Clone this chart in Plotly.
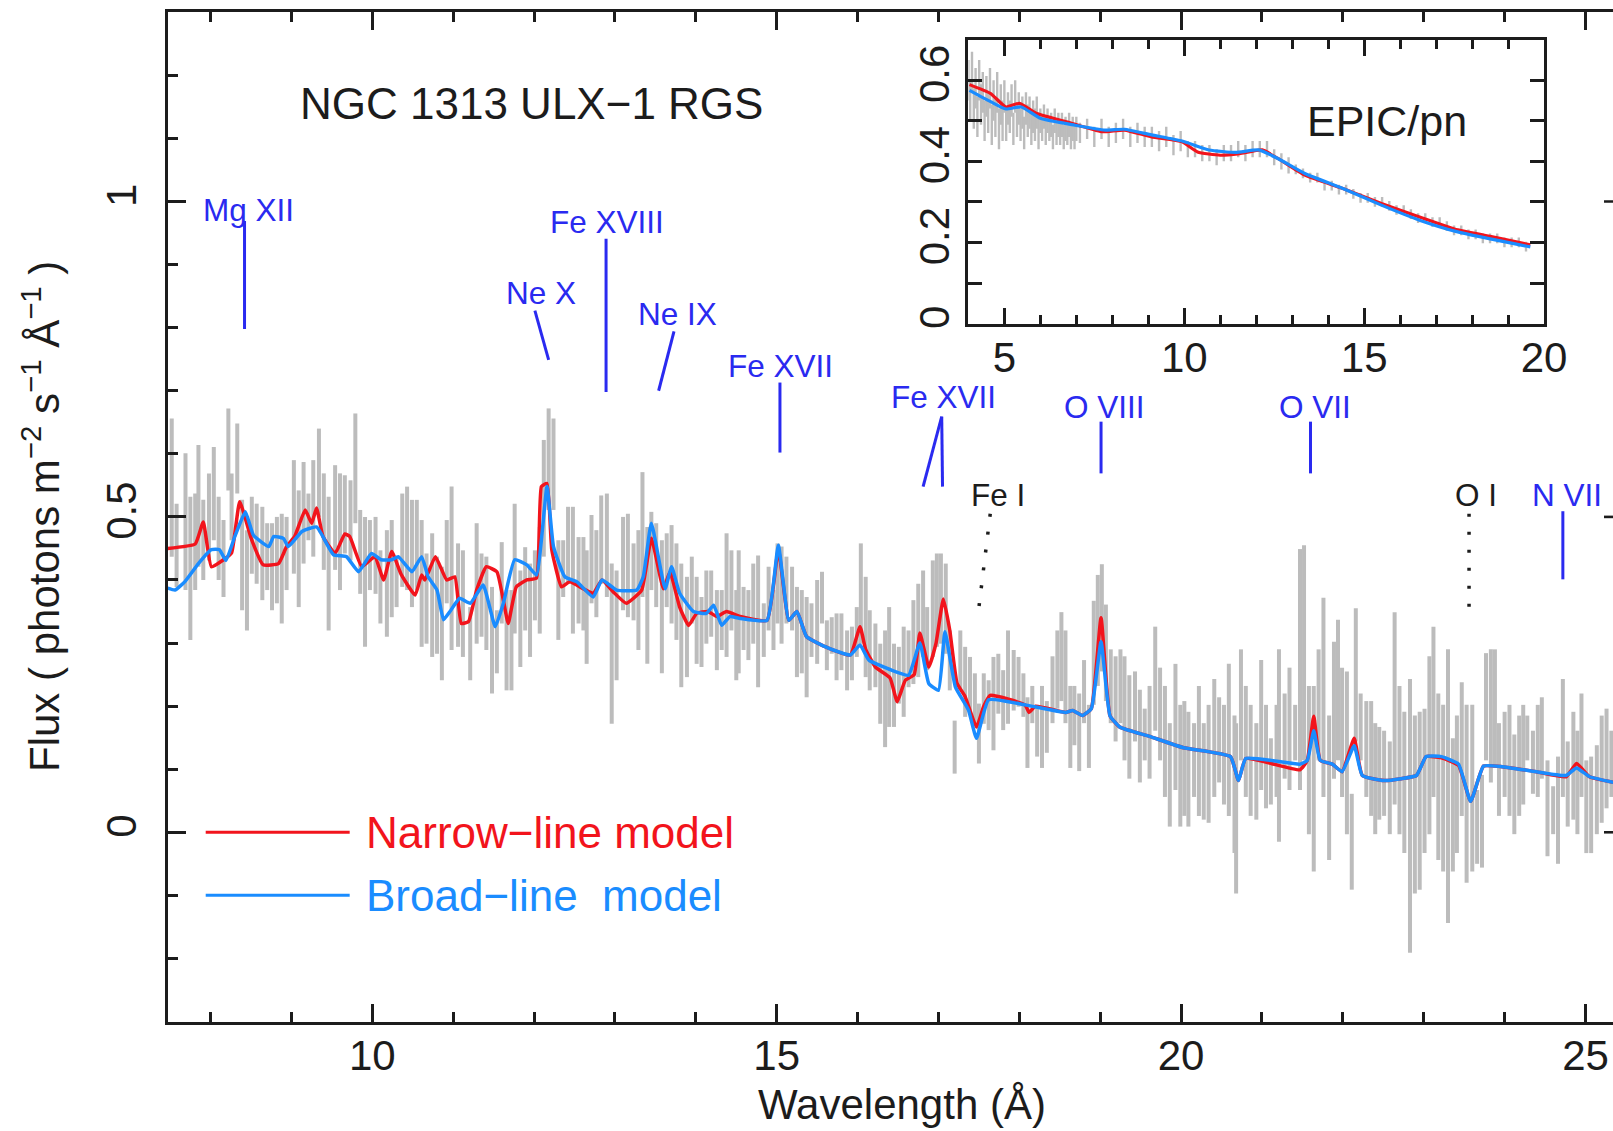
import plotly.graph_objects as go

# ---------------- RGS data (grey error bars) ----------------
rgs_wl = [7.52, 7.58, 7.69, 7.75, 7.81, 7.85, 7.91, 7.98, 8.04, 8.10, 8.16, 8.22, 8.26, 8.33, 8.39, 8.45, 8.51, 8.57, 8.64, 8.70,
          8.76, 8.82, 8.88, 8.94, 9.03, 9.09, 9.15, 9.21, 9.27, 9.34, 9.40, 9.46, 9.54, 9.60, 9.66, 9.73, 9.79, 9.85, 9.91, 9.97,
          10.04, 10.10, 10.18, 10.24, 10.30, 10.37, 10.43, 10.49, 10.55, 10.61, 10.67, 10.74, 10.80, 10.86, 10.92, 10.98,
          11.06, 11.12, 11.21, 11.29, 11.35, 11.41, 11.48, 11.54, 11.60, 11.66, 11.72, 11.76, 11.83, 11.89, 11.95, 12.01,
          12.07, 12.12, 12.18, 12.24, 12.30, 12.36, 12.42, 12.48, 12.55, 12.61, 12.65, 12.71, 12.77, 12.83, 12.90, 12.96,
          13.02, 13.10, 13.16, 13.23, 13.29, 13.34, 13.40, 13.45, 13.51, 13.58, 13.64, 13.70, 13.76, 13.82, 13.89, 13.95,
          14.01, 14.07, 14.13, 14.19, 14.26, 14.32, 14.38, 14.44, 14.50,
          14.53, 14.59, 14.65, 14.71, 14.77, 14.84, 14.90, 14.96, 15.01, 15.06, 15.12, 15.19, 15.25, 15.31, 15.37, 15.43,
          15.50, 15.56, 15.62, 15.68, 15.74, 15.80, 15.87, 15.93, 15.99, 16.04, 16.10, 16.15, 16.22, 16.28, 16.34, 16.39,
          16.45, 16.51, 16.57, 16.63, 16.69, 16.75, 16.81, 16.86, 16.93, 16.98, 17.03, 17.09, 17.14, 17.20, 17.27, 17.33,
          17.39, 17.45, 17.50, 17.56, 17.62, 17.68, 17.74, 17.80, 17.86, 17.93, 17.99, 18.05,
          18.10, 18.16, 18.22, 18.28, 18.34, 18.41, 18.47, 18.52, 18.57, 18.63, 18.68, 18.74, 18.80, 18.86, 18.92, 18.97,
          19.02, 19.07, 19.13, 19.19, 19.25, 19.30, 19.36, 19.43, 19.49, 19.55, 19.61, 19.68, 19.74, 19.80, 19.86, 19.93,
          19.99, 20.04, 20.09, 20.16, 20.22, 20.28, 20.34, 20.41, 20.47, 20.53, 20.59, 20.66, 20.68, 20.74, 20.80, 20.86,
          20.93, 20.99, 21.05, 21.11, 21.18, 21.21, 21.28, 21.34, 21.41, 21.47,
          21.52, 21.58, 21.64, 21.70, 21.76, 21.83, 21.89, 21.94, 21.99, 22.05, 22.11, 22.16, 22.22, 22.29, 22.35, 22.40,
          22.45, 22.51, 22.58, 22.64, 22.70, 22.76, 22.83, 22.89, 22.95, 23.01, 23.07, 23.12, 23.18, 23.24, 23.30, 23.36,
          23.41, 23.47, 23.53, 23.60, 23.66, 23.72, 23.77, 23.83, 23.88, 23.93, 24.00, 24.06, 24.12, 24.18, 24.23, 24.28,
          24.35, 24.41, 24.46, 24.53, 24.60, 24.66, 24.72, 24.78, 24.85, 24.90, 24.95, 25.01, 25.07, 25.14, 25.20, 25.26,
          25.32]
rgs_hi = [.656, .521, .601, .532, .537, .614, .527, .569, .611, .532, .495, .672, .569, .648, .527, .479, .532, .521, .516, .490,
          .490, .500, .505, .500, .590, .542, .587, .537, .590, .640, .569, .532, .582, .569, .566, .558, .664, .511, .500, .495,
          .500, .447, .479, .495, .437, .537, .548, .527, .527, .495, .442, .474, .437, .421, .495, .548,
          .458, .447, .357, .490, .442, .437, .389, .352, .460, .384, .384, .521, .415, .452, .426, .447,
          .484, .622, .672, .656, .463, .463, .516, .516, .468, .468, .447, .503, .479, .534, .537, .426,
          .415, .500, .505, .458, .479, .571, .484, .508, .490, .463, .474, .487, .458, .426, .405, .437,
          .405, .373, .415, .415, .384, .384, .474, .447, .384,
          .447, .389, .384, .426, .439, .363, .421, .384, .458, .453, .437, .421, .389, .384, .373, .363,
          .400, .413, .336, .341, .347, .347, .320, .326, .357, .458, .405, .352, .331, .299, .320, .357,
          .299, .294, .326, .320, .368, .394, .415, .357, .431, .442, .442, .426, .320, .177, .320, .294,
          .278, .252, .204, .252, .241, .278, .283, .257, .320, .289, .278, .252,
          .214, .232, .202, .232, .208, .279, .320, .349, .320, .232, .232, .220, .273, .202, .367, .408,
          .425, .361, .290, .279, .290, .279, .249, .255, .226, .196, .232, .326, .261, .232, .173, .267,
          .202, .208, .191, .173, .232, .173, .202, .243, .214, .202, .267, .185, .173, .290, .232, .202,
          .173, .273, .202, .149, .202, .290, .220, .261, .202, .449,
          .455, .232, .232, .290, .372, .185, .302, .337, .261, .255, .061, .355, .220, .208, .208, .173,
          .167, .161, .144, .349, .232, .191, .243, .185, .191, .196, .279, .326, .220, .202, .290, .149,
          .185, .238, .202, .202, .067, .091, .284, .290, .290, .173, .191, .202, .155, .185, .202, .185,
          .161, .202, .214, .114, .073, .120, .243, .144, .191, .161, .220, .114, .120, .138, .185, .196,
          .161]
rgs_lo = [.437, .389, .384, .305, .384, .421, .400, .431, .463, .400, .373, .542, .463, .537, .352, .320, .410, .394, .368, .384,
          .352, .363, .331, .384, .410, .357, .426, .463, .437, .500, .416, .320, .416, .384, .442, .431, .490, .378, .294, .384,
          .378, .331, .310, .341, .357, .389, .384, .357, .384, .294, .299, .278, .283, .241, .363, .289,
          .294, .278, .241, .299, .310, .289, .220, .252, .331, .225, .225, .315, .262, .320, .278, .336,
          .315, .437, .511, .511, .305, .373, .394, .315, .331, .320, .267, .363, .341, .394, .373, .172,
          .241, .352, .341, .336, .289, .373, .267, .384, .357, .252, .357, .331, .305, .230, .246, .331,
          .267, .262, .299, .310, .257, .289, .278, .320, .241,
          .252, .289, .273, .299, .230, .278, .320, .289, .331, .299, .331, .320, .246, .252, .214, .278,
          .267, .331, .257, .283, .241, .257, .225, .241, .278, .299, .246, .225, .230, .172, .135, .167,
          .167, .204, .183, .230, .235, .246, .278, .257, .278, .294, .299, .283, .225, .093, .225, .183,
          .193, .172, .109, .172, .162, .130, .188, .162, .172, .193, .199, .183,
          .102, .173, .120, .102, .126, .173, .196, .208, .173, .102, .138, .097, .173, .102, .202, .232,
          .255, .208, .173, .144, .173, .114, .085, .144, .079, .114, .085, .161, .114, .056, .009, .067,
          .009, .026, .009, .056, .026, .020, .015, .056, .079, .044, .026, -.033, -.097, .114, .056, .026,
          .020, .067, .038, .044, .056, -.015, .085, .067, .114, .067,
          .114, -.003, -.062, .114, .056, -.044, .085, .114, .056, -.003, -.091, .144, .114, .056, .026, -.003,
          .020, .026, -.003, .044, -.003, -.033, -.191, -.097, -.091, -.033, -.003, .056, -.044, -.062, -.144, -.062,
          -.033, .026, -.080, -.062, -.050, -.056, .114, .079, .102, .026, .056, .026, -.003, .026, .044, .114,
          .061, .056, .085, -.038, -.003, -.050, .056, .009, .020, -.003, .056, -.033, -.033, -.003, .015, .038,
          .056]

# ---------------- RGS models ----------------
narrow_wl = [7.47, 7.81, 7.91, 8.01, 8.16, 8.26, 8.36, 8.51, 8.65, 8.84, 8.94, 9.04, 9.17, 9.25, 9.31, 9.39, 9.54, 9.66, 9.72,
             9.87, 10.03, 10.14, 10.24, 10.36, 10.53, 10.61, 10.65, 10.78, 10.92, 11.02, 11.10, 11.19, 11.29, 11.41, 11.54,
             11.62, 11.68, 11.78, 11.91, 12.03, 12.09, 12.16, 12.22, 12.34, 12.44, 12.73, 12.84, 12.98, 13.14, 13.33, 13.45,
             13.60, 13.68, 13.80, 13.91, 14.01, 14.15, 14.26, 14.38, 14.55, 14.88, 15.02, 15.15, 15.25, 15.37, 15.64, 15.91,
             16.03, 16.10, 16.22, 16.40, 16.49, 16.59, 16.70, 16.77, 16.88, 16.97, 17.06, 17.14, 17.23, 17.33, 17.47, 17.56,
             17.64, 18.07, 18.12, 18.20, 18.57, 18.66, 18.78, 18.89, 19.01, 19.12, 19.24, 19.61, 20.03, 20.61, 20.71, 20.80,
             21.47, 21.56, 21.64, 21.72, 21.87, 21.99, 22.14, 22.24, 22.51, 22.72, 22.91, 23.03, 23.22, 23.43, 23.58, 23.74,
             23.97, 24.39, 24.76, 24.89, 25.05, 25.35]
narrow_flux = [0.450, 0.457, 0.492, 0.421, 0.432, 0.443, 0.524, 0.463, 0.424, 0.426, 0.453, 0.469, 0.511, 0.490, 0.514, 0.469,
               0.442, 0.473, 0.469, 0.421, 0.437, 0.400, 0.445, 0.408, 0.376, 0.408, 0.400, 0.437, 0.400, 0.405, 0.331, 0.334,
               0.384, 0.421, 0.413, 0.368, 0.331, 0.389, 0.400, 0.403, 0.548, 0.553, 0.447, 0.389, 0.397, 0.379, 0.400, 0.381,
               0.363, 0.384, 0.466, 0.386, 0.413, 0.357, 0.328, 0.347, 0.350, 0.342, 0.350, 0.342, 0.336, 0.448, 0.336, 0.350,
               0.310, 0.292, 0.281, 0.326, 0.290, 0.262, 0.245, 0.207, 0.241, 0.250, 0.316, 0.262, 0.300, 0.370, 0.320, 0.236,
               0.215, 0.167, 0.200, 0.217, 0.202, 0.190, 0.200, 0.190, 0.193, 0.185, 0.196, 0.340, 0.185, 0.167, 0.152, 0.134,
               0.120, 0.082, 0.117, 0.099, 0.114, 0.184, 0.114, 0.108, 0.096, 0.149, 0.090, 0.082, 0.085, 0.090, 0.120, 0.118,
               0.106, 0.049, 0.105, 0.104, 0.096, 0.088, 0.109, 0.088, 0.079]
broad_wl = [7.47, 7.56, 7.68, 7.85, 8.01, 8.11, 8.19, 8.30, 8.43, 8.53, 8.72, 8.78, 8.90, 8.96, 9.13, 9.31, 9.52, 9.68, 9.83,
            9.99, 10.11, 10.24, 10.32, 10.49, 10.61, 10.69, 10.80, 10.88, 10.96, 11.08, 11.21, 11.37, 11.52, 11.62, 11.76,
            11.91, 12.03, 12.16, 12.24, 12.38, 12.53, 12.73, 12.84, 13.02, 13.27, 13.35, 13.45, 13.62, 13.70, 13.80, 13.97,
            14.13, 14.22, 14.32, 14.42, 14.55, 14.88, 15.02, 15.15, 15.25, 15.37, 15.64, 15.91, 16.03, 16.14, 16.42, 16.63,
            16.77, 16.88, 17.00, 17.08, 17.21, 17.37, 17.47, 17.62, 18.07, 18.57, 18.66, 18.78, 18.89, 19.01, 19.12, 19.24,
            19.61, 20.03, 20.61, 20.71, 20.80, 21.47, 21.56, 21.64, 21.72, 21.87, 21.99, 22.14, 22.24, 22.51, 22.72, 22.91,
            23.03, 23.22, 23.43, 23.58, 23.74, 23.97, 24.39, 24.76, 24.89, 25.05, 25.35]
broad_flux = [0.387, 0.384, 0.397, 0.426, 0.448, 0.448, 0.431, 0.469, 0.508, 0.471, 0.453, 0.469, 0.466, 0.453, 0.477, 0.484,
              0.440, 0.437, 0.413, 0.442, 0.432, 0.432, 0.437, 0.413, 0.437, 0.405, 0.384, 0.337, 0.350, 0.371, 0.363, 0.392,
              0.326, 0.363, 0.432, 0.424, 0.408, 0.548, 0.453, 0.405, 0.397, 0.373, 0.400, 0.384, 0.384, 0.405, 0.490, 0.386,
              0.421, 0.379, 0.350, 0.347, 0.360, 0.328, 0.342, 0.339, 0.336, 0.455, 0.336, 0.350, 0.310, 0.292, 0.281, 0.297,
              0.273, 0.257, 0.249, 0.300, 0.236, 0.225, 0.318, 0.230, 0.194, 0.149, 0.210, 0.202, 0.190, 0.193, 0.185, 0.196,
              0.302, 0.185, 0.167, 0.152, 0.134, 0.120, 0.082, 0.117, 0.108, 0.114, 0.161, 0.114, 0.108, 0.096, 0.137, 0.090,
              0.082, 0.085, 0.090, 0.120, 0.120, 0.108, 0.049, 0.105, 0.104, 0.096, 0.090, 0.102, 0.088, 0.079]

# ---------------- EPIC/pn inset ----------------
pn_wl = [4.00, 4.05, 4.10, 4.15, 4.20, 4.25, 4.30, 4.35, 4.40, 4.45, 4.50, 4.55, 4.60, 4.65, 4.70, 4.75, 4.80, 4.85, 4.90, 4.95,
         5.00, 5.05, 5.10, 5.15, 5.20, 5.25, 5.30, 5.35, 5.40, 5.45, 5.50, 5.55, 5.60, 5.65, 5.70, 5.75, 5.80, 5.85, 5.90, 5.95,
         6.00, 6.05, 6.10, 6.15, 6.20, 6.25, 6.30, 6.35, 6.40, 6.45, 6.50, 6.55, 6.60, 6.65, 6.70, 6.75, 6.80, 6.85, 6.90, 6.95,
         7.00, 7.1, 7.3, 7.5, 7.7, 7.9, 8.1, 8.3, 8.5, 8.7, 8.9, 9.1, 9.3, 9.5, 9.7, 9.9, 10.1, 10.3, 10.5, 10.7, 10.9, 11.1,
         11.3, 11.5, 11.7, 11.9, 12.1, 12.3, 12.5, 12.7, 12.9, 13.1, 13.3, 13.5, 13.7, 13.9, 14.1, 14.3, 14.5, 14.7, 14.9,
         15.1, 15.3, 15.5, 15.7, 15.9, 16.1, 16.3, 16.5, 16.7, 16.9, 17.1, 17.3, 17.5, 17.7, 17.9, 18.1, 18.3, 18.5, 18.7,
         18.9, 19.1, 19.3, 19.5]
pn_flux = [0.60, 0.55, 0.62, 0.53, 0.58, 0.51, 0.60, 0.54, 0.57, 0.50, 0.56, 0.52, 0.58, 0.49, 0.55, 0.51, 0.57, 0.48, 0.54, 0.50,
           0.56, 0.49, 0.53, 0.51, 0.55, 0.48, 0.56, 0.50, 0.53, 0.49, 0.52, 0.47, 0.53, 0.50, 0.52, 0.48, 0.51, 0.49, 0.52, 0.47,
           0.50, 0.48, 0.51, 0.47, 0.50, 0.48, 0.49, 0.46, 0.50, 0.47, 0.49, 0.47, 0.49, 0.46, 0.48, 0.47, 0.49, 0.46, 0.48, 0.46,
           0.48, 0.47, 0.48, 0.46, 0.48, 0.46, 0.47, 0.48, 0.46, 0.47, 0.46, 0.46, 0.45, 0.46, 0.44, 0.45, 0.43, 0.43, 0.42, 0.42,
           0.41, 0.42, 0.42, 0.43, 0.42, 0.43, 0.43, 0.43, 0.41, 0.40, 0.39, 0.38, 0.37, 0.36, 0.36, 0.34, 0.34, 0.33, 0.33,
           0.32, 0.31, 0.31, 0.30, 0.30, 0.29, 0.28, 0.28, 0.27, 0.26, 0.26, 0.25, 0.25, 0.24, 0.23, 0.23, 0.22, 0.22, 0.21,
           0.21, 0.21, 0.20, 0.20, 0.20, 0.19]
pn_err = [0.05] * 20 + [0.04] * 20 + [0.03] * 21 + [0.025] * 15 + [0.02] * 15 + [0.012] * 33
pn_narrow_wl = [4.03, 4.62, 5.04, 5.42, 5.90, 6.75, 7.70, 8.34, 9.09, 9.94, 10.37, 11.00, 11.54, 12.17, 12.60, 13.35,
                14.41, 15.48, 16.54, 17.60, 18.67, 19.62]
pn_narrow_flux = [0.589, 0.567, 0.534, 0.543, 0.518, 0.497, 0.473, 0.477, 0.460, 0.448, 0.423, 0.415, 0.419, 0.428, 0.407,
                  0.366, 0.333, 0.296, 0.263, 0.231, 0.212, 0.194]
pn_broad_wl = [4.03, 4.62, 5.04, 5.47, 6.00, 6.96, 7.81, 8.34, 9.09, 9.94, 10.69, 11.43, 12.07, 12.60, 13.35, 14.41,
               15.48, 16.54, 17.60, 19.62]
pn_broad_flux = [0.575, 0.547, 0.529, 0.534, 0.506, 0.489, 0.477, 0.479, 0.465, 0.450, 0.428, 0.422, 0.428, 0.407, 0.370,
                 0.333, 0.292, 0.255, 0.226, 0.189]

# ---------------- line identifications ----------------
ion_labels = ["Mg XII", "Ne X", "Fe XVIII", "Ne IX", "Fe XVII", "Fe XVII", "O VIII", "O VII", "N VII"]
ion_label_wl = [8.475, 12.08, 12.90, 13.77, 15.05, 17.06, 19.05, 21.66, 24.77]
ion_label_flux = [0.987, 0.855, 0.967, 0.822, 0.739, 0.690, 0.675, 0.675, 0.535]
ion_tick_wl_top = [8.42, 12.01, 12.89, 13.73, 15.04, 17.04, 17.04, 19.01, 21.60, 24.72]
ion_tick_fl_top = [0.969, 0.827, 0.941, 0.794, 0.713, 0.659, 0.659, 0.651, 0.651, 0.509]
ion_tick_wl_bot = [8.42, 12.18, 12.89, 13.54, 15.04, 16.81, 17.05, 19.01, 21.60, 24.72]
ion_tick_fl_bot = [0.798, 0.749, 0.698, 0.700, 0.602, 0.548, 0.548, 0.569, 0.569, 0.401]

abs_labels = ["Fe I", "O I"]
abs_label_wl = [17.74, 23.65]
abs_label_flux = [0.535, 0.535]
abs_wl_top = [17.64, 23.56]
abs_fl_top = [0.505, 0.505]
abs_wl_bot = [17.49, 23.56]
abs_fl_bot = [0.346, 0.346]

# ---------------- styling ----------------
FONT = "Liberation Sans, Arial, Helvetica, sans-serif"
INK = "#1c1c1c"
GREY = "#bcbcbc"
RED = "#f2141c"
BLUE = "#1a8cff"
LBLUE = "#2a2af0"

fig = go.Figure()

bx, by = [], []
for w, lo, hi in zip(rgs_wl, rgs_lo, rgs_hi):
    bx += [w, w, None]
    by += [lo, hi, None]
fig.add_trace(go.Scatter(x=bx, y=by, mode="lines", line=dict(color=GREY, width=4),
                         xaxis="x", yaxis="y", hoverinfo="skip"))
fig.add_trace(go.Scatter(x=narrow_wl, y=narrow_flux, mode="lines",
                         line=dict(color=RED, width=3.5, shape="spline", smoothing=0.4),
                         xaxis="x", yaxis="y"))
fig.add_trace(go.Scatter(x=broad_wl, y=broad_flux, mode="lines",
                         line=dict(color=BLUE, width=3.5, shape="spline", smoothing=0.4),
                         xaxis="x", yaxis="y"))

ix, iy = [], []
for w, f, e in zip(pn_wl, pn_flux, pn_err):
    ix += [w, w, None]
    iy += [f - e, f + e, None]
fig.add_trace(go.Scatter(x=ix, y=iy, mode="lines", line=dict(color=GREY, width=2.4),
                         xaxis="x2", yaxis="y2", hoverinfo="skip"))
fig.add_trace(go.Scatter(x=pn_narrow_wl, y=pn_narrow_flux, mode="lines",
                         line=dict(color=RED, width=3.2, shape="spline", smoothing=0.5),
                         xaxis="x2", yaxis="y2"))
fig.add_trace(go.Scatter(x=pn_broad_wl, y=pn_broad_flux, mode="lines",
                         line=dict(color=BLUE, width=3.2, shape="spline", smoothing=0.5),
                         xaxis="x2", yaxis="y2"))

W, H = 1613, 1131
main_x = [167.7 / W, 1.0]
main_y = [1 - 1021.5 / H, 1 - 12.3 / H]
ins_x = [968.4 / W, 1544.0 / W]
ins_y = [1 - 323.6 / H, 1 - 39.6 / H]

axis_common = dict(showgrid=False, zeroline=False, showline=True, linecolor=INK, linewidth=3,
                   ticks="inside", tickcolor=INK, tickwidth=2.6, automargin=False,
                   tickfont=dict(family=FONT, size=42, color=INK))

fig.update_layout(
    width=W, height=H, autosize=False, margin=dict(l=0, r=0, t=0, b=0, pad=0),
    paper_bgcolor="white", plot_bgcolor="white", showlegend=False,
    font=dict(family=FONT, color=INK),
    xaxis=dict(domain=main_x, range=[7.47, 25.34], anchor="y", tick0=0, dtick=5, ticklen=18,
               mirror="ticks", ticklabelstandoff=-5,
               minor=dict(dtick=1, tick0=0, ticklen=10, ticks="inside", tickcolor=INK, tickwidth=2.6),
               **axis_common),
    yaxis=dict(domain=main_y, range=[-0.3, 1.3], anchor="x", tickvals=[0, 0.5, 1], ticktext=["0", "0.5", "1"],
               ticklen=18, tickangle=-90, mirror=False, ticklabelstandoff=12,
               minor=dict(dtick=0.1, tick0=0, ticklen=10, ticks="inside", tickcolor=INK, tickwidth=2.6),
               **axis_common),
    xaxis2=dict(domain=ins_x, range=[4, 20], anchor="y2", tick0=0, dtick=5, ticklen=16, mirror="ticks",
                ticklabelstandoff=-5,
                minor=dict(dtick=1, tick0=0, ticklen=9, ticks="inside", tickcolor=INK, tickwidth=2.6),
                **axis_common),
    yaxis2=dict(domain=ins_y, range=[0, 0.7], anchor="x2",
                tickvals=[0, 0.1, 0.2, 0.3, 0.4, 0.5, 0.6], ticktext=["0", "", "0.2", "", "0.4", "", "0.6"],
                ticklen=14, tickangle=-90, mirror="ticks", **axis_common),
)

shapes = []
for wt, ft, wb, fb in zip(ion_tick_wl_top, ion_tick_fl_top, ion_tick_wl_bot, ion_tick_fl_bot):
    shapes.append(dict(type="line", xref="x", yref="y", x0=wt, y0=ft, x1=wb, y1=fb,
                       line=dict(color=LBLUE, width=3)))
for wt, ft, wb, fb in zip(abs_wl_top, abs_fl_top, abs_wl_bot, abs_fl_bot):
    shapes.append(dict(type="line", xref="x", yref="y", x0=wt, y0=ft, x1=wb, y1=fb,
                       line=dict(color=INK, width=3.5, dash="3px,15px")))
# right-hand frame ticks (the right spine lies just outside the picture)
right_ticks = [0, 0.5, 1]
for f in right_ticks:
    shapes.append(dict(type="line", xref="paper", yref="y", x0=1 - 9 / W, x1=1.0, y0=f, y1=f,
                       line=dict(color=INK, width=2.6)))
legend_names = ["Narrow\u2212line model", "Broad\u2212line\u00a0 model"]
legend_colors = [RED, BLUE]
legend_flux = [0.0, -0.1]
for c, f in zip(legend_colors, legend_flux):
    shapes.append(dict(type="line", xref="x", yref="y", x0=7.94, y0=f, x1=9.72, y1=f,
                       line=dict(color=c, width=3)))
fig.update_layout(shapes=shapes)

ann = []
for t, w, f in zip(ion_labels, ion_label_wl, ion_label_flux):
    ann.append(dict(text=t, x=w, y=f, xref="x", yref="y", showarrow=False, xanchor="center", yanchor="middle",
                    font=dict(family=FONT, size=31.5, color=LBLUE)))
for t, w, f in zip(abs_labels, abs_label_wl, abs_label_flux):
    ann.append(dict(text=t, x=w, y=f, xref="x", yref="y", showarrow=False, xanchor="center", yanchor="middle",
                    font=dict(family=FONT, size=31.5, color=INK)))
for t, c, f in zip(legend_names, legend_colors, legend_flux):
    ann.append(dict(text=t, x=9.90, y=f, xref="x", yref="y", xanchor="left", yanchor="middle", showarrow=False,
                    font=dict(family=FONT, size=44, color=c)))
ann.append(dict(text="NGC 1313 ULX\u22121 RGS", x=11.97, y=1.155, xref="x", yref="y", showarrow=False,
                xanchor="center", yanchor="middle", font=dict(family=FONT, size=44, color=INK)))
ann.append(dict(text="EPIC/pn", x=15.63, y=0.50, xref="x2", yref="y2", showarrow=False,
                xanchor="center", yanchor="middle", font=dict(family=FONT, size=43, color=INK)))
ann.append(dict(text="Wavelength (\u00c5)", x=902 / W, y=1 - 1104 / H, xref="paper", yref="paper",
                xanchor="center", yanchor="middle",
                showarrow=False, font=dict(family=FONT, size=42, color=INK)))
ann.append(dict(text="Flux ( photons m<sup>\u22122</sup> s<sup>\u22121</sup> \u00c5<sup>\u22121</sup> )",
                x=41 / W, y=1 - 517 / H, xref="paper", yref="paper", textangle=-90,
                xanchor="center", yanchor="middle",
                showarrow=False, font=dict(family=FONT, size=42, color=INK)))
fig.update_layout(annotations=ann)

fig.write_html("out.html", config={"responsive": False, "displayModeBar": False},
               post_script="document.body.style.margin='0px';document.documentElement.style.overflow='hidden';")
